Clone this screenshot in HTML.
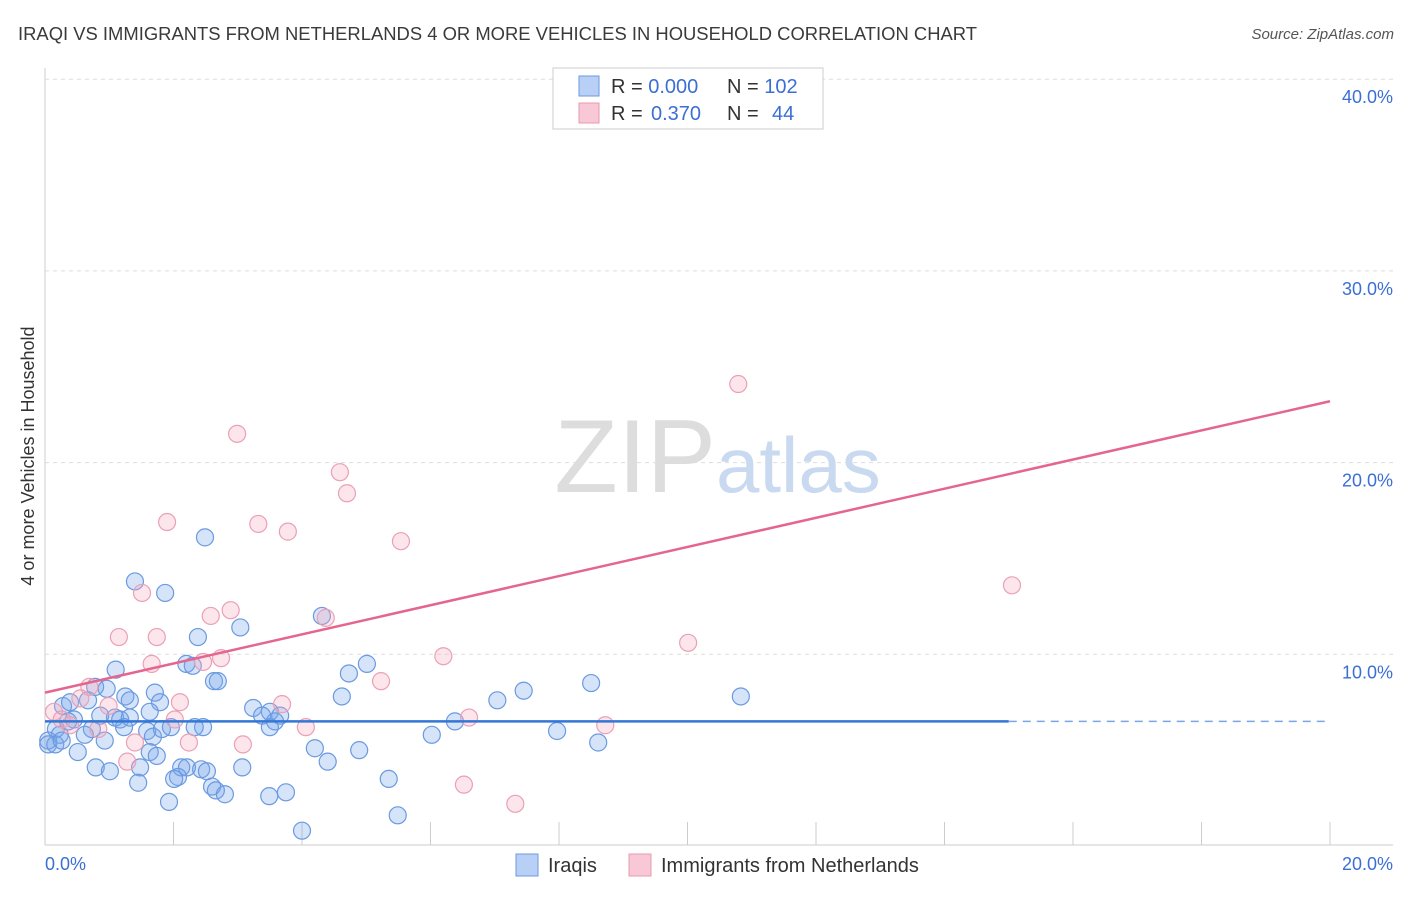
<!DOCTYPE html>
<html><head><meta charset="utf-8"><style>
body{margin:0;background:#fff;font-family:"Liberation Sans",sans-serif}
svg text{font-family:"Liberation Sans",sans-serif}
</style></head><body>
<svg width="1406" height="892">
<text x="18" y="40" font-size="18" fill="#3a3a3a" textLength="959" lengthAdjust="spacingAndGlyphs">IRAQI VS IMMIGRANTS FROM NETHERLANDS 4 OR MORE VEHICLES IN HOUSEHOLD CORRELATION CHART</text>
<text x="1394" y="39" font-size="15" fill="#555" text-anchor="end" font-style="italic">Source: ZipAtlas.com</text>
<g id="grid"></g>
<text x="716" y="492" font-size="104" fill="#ddd" text-anchor="end" font-family="Liberation Serif">ZIP</text>
<text x="716" y="492" font-size="78" fill="#c8d9f0">atlas</text>
<g id="pts"></g>
<g id="lines"></g>
<text transform="translate(34,456) rotate(-90)" font-size="18" fill="#333" text-anchor="middle">4 or more Vehicles in Household</text>
<text x="45" y="870" font-size="18" fill="#3b6fd4">0.0%</text>
<text x="1393" y="870" font-size="18" fill="#3b6fd4" text-anchor="end">20.0%</text>
<g>
<rect x="553" y="68" width="270" height="61" fill="#fff" stroke="#ccc"/>
<rect x="579" y="76" width="20" height="20" fill="#b8d0f5" stroke="#6b9ae0"/>
<rect x="579" y="103" width="20" height="20" fill="#f9c8d6" stroke="#e89ab0"/>
<text x="611" y="93" font-size="20" fill="#333">R = <tspan fill="#3b6fd4">0.000</tspan><tspan x="727">N = </tspan><tspan fill="#3b6fd4">102</tspan></text>
<text x="611" y="120" font-size="20" fill="#333">R = <tspan fill="#3b6fd4" x="651">0.370</tspan><tspan x="727">N = </tspan><tspan fill="#3b6fd4" x="772">44</tspan></text>
</g>
<g>
<rect x="516" y="854" width="22" height="22" fill="#b8d0f5" stroke="#6b9ae0"/>
<text x="548" y="872" font-size="20" fill="#333">Iraqis</text>
<rect x="629" y="854" width="22" height="22" fill="#f9c8d6" stroke="#e89ab0"/>
<text x="661" y="872" font-size="20" fill="#333">Immigrants from Netherlands</text>
</g>
</svg>
<script>
const yTicks=[10,20,30,40];
const xTickVals=[2,4,6,8,10,12,14,16,18,20];
const blueX=[2.49,1.40,1.87,4.31,3.04,2.38,1.10,2.20,2.30,5.01,4.73,2.63,2.69,0.78,0.96,1.71,8.50,7.45,10.83,4.62,7.04,1.25,1.32,1.79,0.67,0.28,0.39,3.24,1.63,3.50,3.66,3.38,0.86,1.09,1.17,0.45,1.32,0.36,6.38,3.58,3.50,2.46,2.33,1.23,0.73,0.17,0.23,0.05,0.05,1.59,1.68,1.82,1.96,6.02,7.97,8.61,4.20,4.89,0.51,1.63,1.74,4.40,0.79,1.01,1.48,2.12,2.21,2.43,2.52,3.07,2.07,2.01,1.45,5.35,2.60,2.66,2.80,3.49,3.75,1.93,5.49,4.00,0.16,0.26,0.62,0.93];
const blueY=[16.1,13.8,13.2,12.0,11.4,10.9,9.2,9.5,9.4,9.5,9.0,8.6,8.6,8.3,8.2,8.0,8.5,8.1,7.8,7.8,7.6,7.8,7.6,7.5,7.6,7.3,7.5,7.2,7.0,7.0,6.8,6.8,6.8,6.7,6.6,6.6,6.7,6.5,6.5,6.5,6.2,6.2,6.2,6.2,6.1,6.1,5.8,5.5,5.3,6.0,5.7,6.1,6.2,5.8,6.0,5.4,5.1,5.0,4.9,4.9,4.7,4.4,4.1,3.9,4.1,4.1,4.1,4.0,3.9,4.1,3.6,3.5,3.3,3.5,3.1,2.9,2.7,2.6,2.8,2.3,1.6,0.8,5.3,5.5,5.8,5.5];
const pinkX=[9.03,10.79,2.99,4.59,4.70,1.90,3.32,3.78,5.54,15.05,1.51,2.58,2.89,4.37,1.15,1.74,10.01,1.66,2.46,2.74,6.20,5.23,0.69,2.10,3.69,0.99,0.14,0.26,2.02,6.60,8.72,4.06,1.40,2.24,3.08,1.28,6.52,7.32,0.55,0.83,0.39];
const pinkY=[40.0,24.1,21.5,19.5,18.4,16.9,16.8,16.4,15.9,13.6,13.2,12.0,12.3,11.9,10.9,10.9,10.6,9.5,9.6,9.8,9.9,8.6,8.3,7.5,7.4,7.3,7.0,6.6,6.6,6.7,6.3,6.2,5.4,5.4,5.3,4.4,3.2,2.2,7.7,6.1,6.3];
const pinkTrend=[8.0,23.2];
const blueTrend=[6.5,6.5];
const blueSolidEnd=15;
const NS="http://www.w3.org/2000/svg";
const X0=45,X1=1330,Y0=846,YPER=19.17;
function sx(v){return X0+(v/20)*(X1-X0);}
function sy(v){return Y0-v*YPER;}
function mk(t,a,p){const e=document.createElementNS(NS,t);for(const k in a)e.setAttribute(k,a[k]);p.appendChild(e);return e;}
const grid=document.getElementById('grid');
mk('line',{x1:45,y1:68,x2:45,y2:845,stroke:'#ccc'},grid);
mk('line',{x1:45,y1:845,x2:1393,y2:845,stroke:'#ccc'},grid);
yTicks.forEach(t=>{
 const l=mk('line',{x1:45,x2:1393,y1:sy(t),y2:sy(t),stroke:'#ddd','stroke-dasharray':'4,4'},grid);
 
 
 const tx=mk('text',{x:1393,y:sy(t)+24,'font-size':18,fill:'#3b6fd4','text-anchor':'end'},grid);
 tx.textContent=t.toFixed(1)+'%';
 
 
});
xTickVals.forEach(t=>{
 const l=mk('line',{x1:sx(t),x2:sx(t),y1:822,y2:845,stroke:'#ccc'},grid);
 
 
});
const pts=document.getElementById('pts');
blueX.forEach((v,i)=>{
 const c=mk('circle',{cx:sx(v),cy:sy(blueY[i]),r:8.5,fill:'rgba(120,165,235,0.3)',stroke:'#6a9ae0','stroke-width':1.2},pts);
 
 
});
pinkX.forEach((v,i)=>{
 const c=mk('circle',{cx:sx(v),cy:sy(pinkY[i]),r:8.5,fill:'rgba(245,170,190,0.3)',stroke:'#eaa0b6','stroke-width':1.2},pts);
 
 
});
const lines=document.getElementById('lines');
const pl=mk('line',{x1:sx(0),y1:sy(pinkTrend[0]),x2:sx(20),y2:sy(pinkTrend[1]),stroke:'#e4668f','stroke-width':2.5},lines);


const bm=blueTrend[0]+(blueTrend[1]-blueTrend[0])*blueSolidEnd/20;
const bl=mk('line',{x1:sx(0),y1:sy(blueTrend[0]),x2:sx(blueSolidEnd),y2:sy(bm),stroke:'#3377d6','stroke-width':2.5},lines);


const bd=mk('line',{x1:sx(blueSolidEnd),y1:sy(bm),x2:sx(20),y2:sy(blueTrend[1]),stroke:'#7aa5e6','stroke-width':1.5,'stroke-dasharray':'8,6'},lines);


</script>
</body></html>
